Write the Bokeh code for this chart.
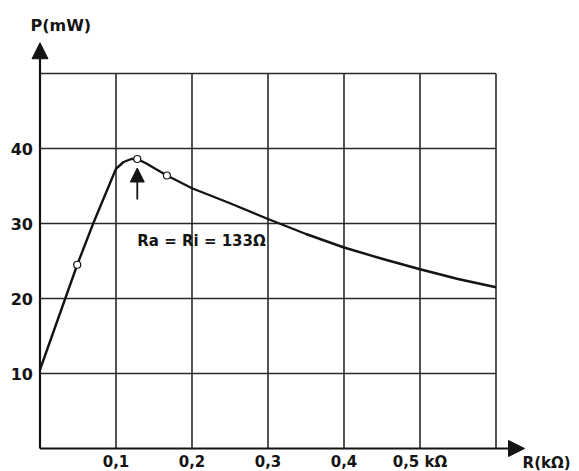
from bokeh.plotting import figure
from bokeh.models import Range1d, FixedTicker, Arrow, NormalHead, Label
from bokeh.embed import file_html
from bokeh.resources import INLINE

# ---- data ----
R_kohm = [0.0, 0.049, 0.070, 0.100, 0.110, 0.120, 0.128, 0.140, 0.150, 0.167,
          0.200, 0.250, 0.300, 0.350, 0.400, 0.450, 0.500, 0.550, 0.600]
P_mW = [10.5, 24.5, 30.0, 37.3, 38.2, 38.6, 38.6, 38.0, 37.4, 36.4,
        34.7, 32.7, 30.6, 28.6, 26.8, 25.3, 23.9, 22.6, 21.5]

marker_R = [0.049, 0.128, 0.167]
marker_P = [24.5, 38.6, 36.4]

x_ticks = [0.1, 0.2, 0.3, 0.4, 0.5]
x_tick_labels = ["0,1", "0,2", "0,3", "0,4", "0,5 kΩ"]
y_ticks = [10, 20, 30, 40]
y_tick_labels = ["10", "20", "30", "40"]

x_grid = [0.1, 0.2, 0.3, 0.4, 0.5, 0.6]
y_grid = [10, 20, 30, 40, 50]
x_grid_max = 0.6
y_grid_max = 50

x_arrow_end = 0.6375
y_arrow_end = 54.1

peak_R = 0.128
annot_text = "Ra = Ri = 133Ω"
x_title = "R(kΩ)"
y_title = "P(mW)"

# ---- layout ----
W, H = 579, 471
px_per_x = 760.0      # pixels per kΩ
px_per_y = 7.5        # pixels per mW
x0_px = 39.5          # where R=0 sits
y0_px = 448.0         # where P=0 sits (from top)

x_range = Range1d(-x0_px / px_per_x, (W - x0_px) / px_per_x)
y_range = Range1d(-(H - y0_px) / px_per_y, y0_px / px_per_y)

p = figure(width=W, height=H, x_range=x_range, y_range=y_range,
           output_backend="svg", toolbar_location=None,
           min_border=0, min_border_left=0, min_border_right=0,
           min_border_top=0, min_border_bottom=0)
p.outline_line_color = None
p.xgrid.visible = False
p.ygrid.visible = False
p.background_fill_color = "white"
p.border_fill_color = "white"

FONT = "DejaVu Sans"
INK = "#141414"

# axes fixed at zero, only carrying labels
for ax, ticks, labels, standoff, fs in ((p.xaxis[0], x_ticks, x_tick_labels, 4, "15px"),
                                        (p.yaxis[0], y_ticks, y_tick_labels, 7, "16px")):
    ax.fixed_location = 0
    ax.ticker = FixedTicker(ticks=ticks)
    ax.major_label_overrides = {t: l for t, l in zip(ticks, labels)}
    ax.axis_line_color = None
    ax.major_tick_line_color = None
    ax.minor_tick_line_color = None
    ax.major_tick_out = 0
    ax.major_tick_in = 0
    ax.major_label_standoff = standoff
    ax.major_label_text_font = FONT
    ax.major_label_text_font_style = "bold"
    ax.major_label_text_font_size = fs
    ax.major_label_text_color = INK

# grid as segments bounded to the chart box
p.segment(x0=x_grid, y0=[0] * len(x_grid), x1=x_grid, y1=[y_grid_max] * len(x_grid),
          line_color="#2a2a2a", line_width=1.6)
p.segment(x0=[0] * len(y_grid), y0=y_grid, x1=[x_grid_max] * len(y_grid), y1=y_grid,
          line_color="#2a2a2a", line_width=1.6)

# axes with arrow heads
p.add_layout(Arrow(x_start=0, y_start=0, x_end=x_arrow_end, y_end=0,
                   line_color=INK, line_width=2.2,
                   end=NormalHead(size=16, fill_color=INK, line_color=INK)))
p.add_layout(Arrow(x_start=0, y_start=0, x_end=0, y_end=y_arrow_end,
                   line_color=INK, line_width=2.2,
                   end=NormalHead(size=16, fill_color=INK, line_color=INK)))

# curve and measured points
p.line(R_kohm, P_mW, line_color=INK, line_width=2.4, line_join="round")
p.scatter(marker_R, marker_P, marker="circle", size=7, fill_color="white",
          line_color=INK, line_width=1.2)

# arrow pointing to the maximum
p.add_layout(Arrow(x_start=peak_R, y_start=33.2, x_end=peak_R, y_end=37.4,
                   line_color=INK, line_width=1.8,
                   end=NormalHead(size=14, fill_color=INK, line_color=INK)))

p.add_layout(Label(x=peak_R, y=27.7, text=annot_text, text_font=FONT,
                   text_font_style="bold", text_font_size="15px",
                   text_baseline="middle", text_align="left", text_color=INK))

p.add_layout(Label(x=-0.0125, y=56.4, text=y_title, text_font=FONT,
                   text_font_style="bold", text_font_size="16px",
                   text_baseline="middle", text_align="left", text_color=INK))
p.add_layout(Label(x=0.635, y=-1.9, text=x_title, text_font=FONT,
                   text_font_style="bold", text_font_size="15px",
                   text_baseline="middle", text_align="left", text_color=INK))

open("out.html", "w").write(file_html(p, INLINE))
